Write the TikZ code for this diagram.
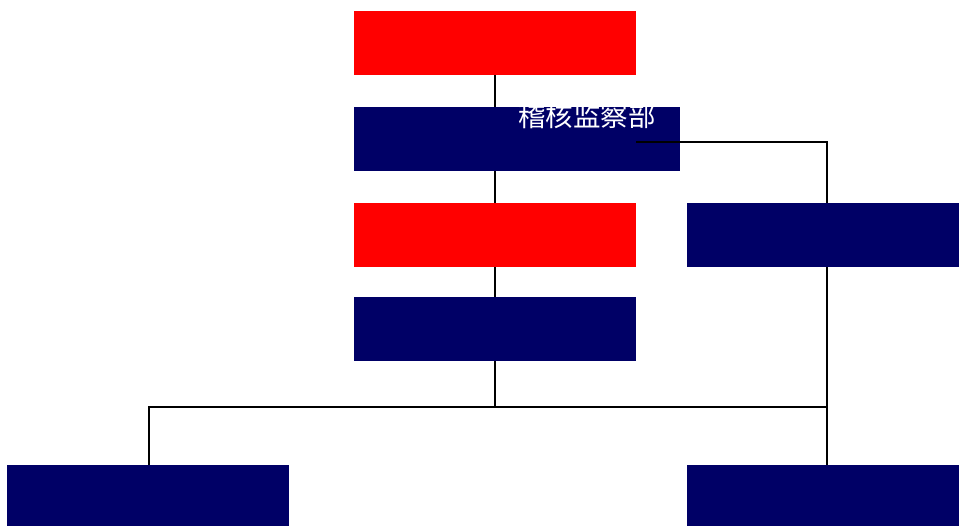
\documentclass[tikz,border=0pt]{standalone}
\usepackage{fontspec}
\newfontfamily\cjk{Noto Sans CJK SC}
\definecolor{navy}{RGB}{0,0,102}
\begin{document}
\begin{tikzpicture}[
  x=1pt, y=-1pt,
  box/.style={inner sep=0pt, minimum width=282pt, minimum height=64pt},
  redbox/.style={box, fill=red},
  navybox/.style={box, fill=navy},
  link/.style={draw=black, line width=1.4pt}
]
\useasboundingbox (0,0) rectangle (959,526);
% boxes
\node[redbox]  (top)   at (495,43)  {};
\node[navybox, minimum width=326pt] (audit) at (517,139) {};
\node[redbox]  (mid)   at (495,235) {};
\node[navybox, minimum width=272pt] (right) at (823,235) {};
\node[navybox] (low)   at (495,329) {};
\node[navybox] (bl)    at (148,497) {};
\node[navybox, minimum width=272pt] (br)    at (823,497) {};
\node[text=white, font=\cjk\fontsize{27.5}{28}\selectfont] (lbl) at (587,116) {稽核监察部};
% connectors
\coordinate (bus) at (495,407);
\coordinate (start) at (636,142);
\draw[link] (top.south) -- (top.south |- audit.north);
\draw[link] (top.south |- audit.south) -- (mid.north);
\draw[link] (mid) -- (low);
\draw[link] (low) -- (bus);
\draw[link] (bl.north -| 149,0) |- (bus) -| (827,0 |- br.north);
\draw[link] (827,0 |- right.south) -- (827,0 |- br.north);
\draw[link] (start) -| (827,0 |- right.north);
\end{tikzpicture}
\end{document}
